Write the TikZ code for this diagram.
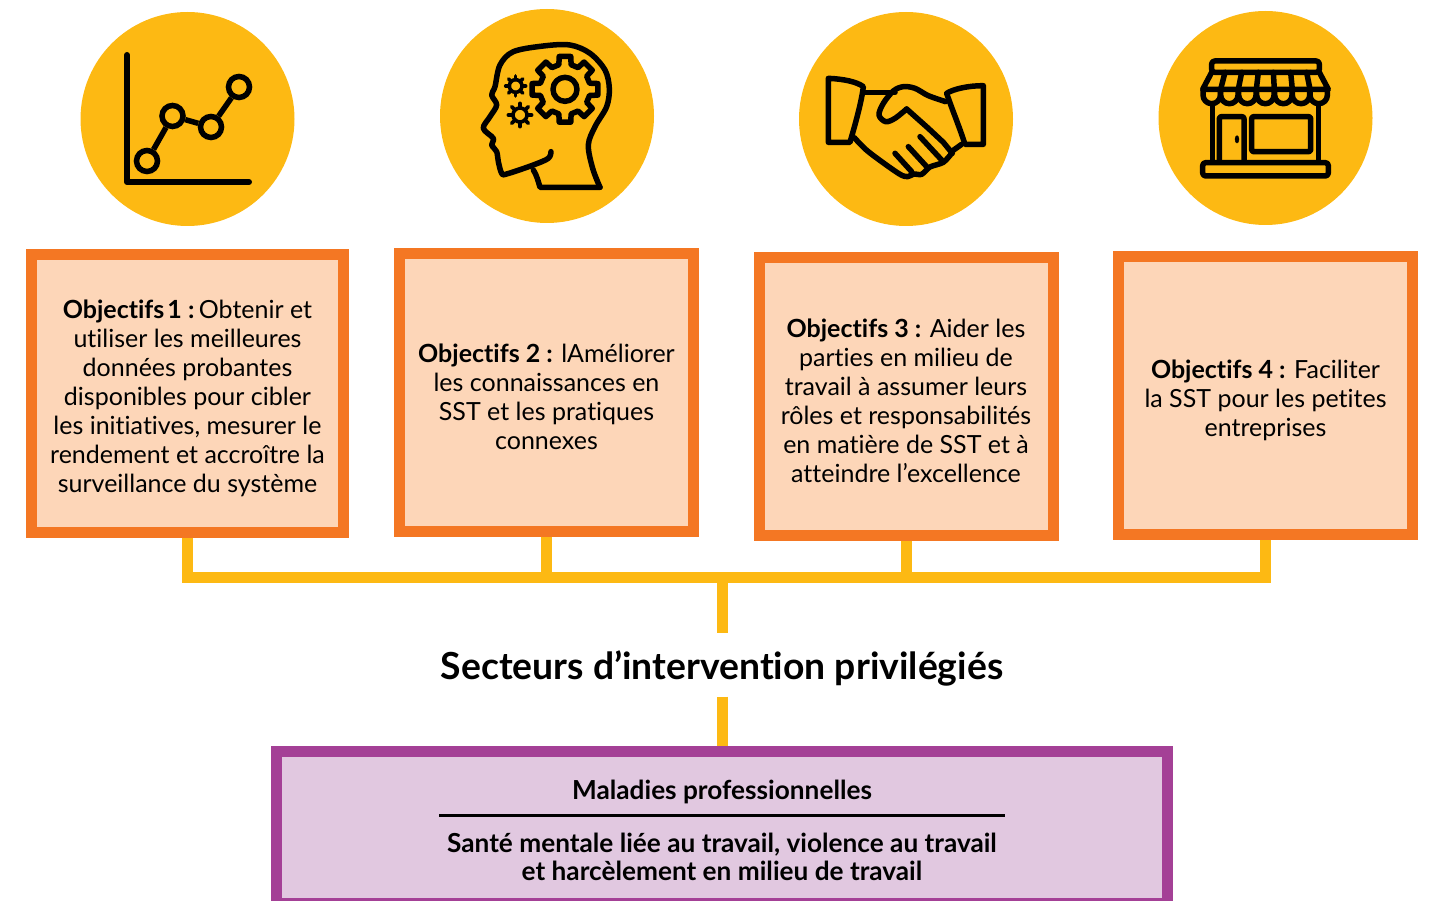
\documentclass[tikz,border=0pt]{standalone}
\usepackage{fontspec}
\setmainfont{Lato}[Ligatures=NoCommon]
\usetikzlibrary{positioning}
\definecolor{goalgold}{HTML}{FDB913}
\definecolor{goalorange}{HTML}{F47723}
\definecolor{goalpeach}{HTML}{FDD6B8}
\definecolor{focuspurple}{HTML}{A44096}
\definecolor{focuslilac}{HTML}{E1C8E0}
\newcommand{\goalstrut}{\rule{0pt}{28pt}} % pushes the block of text down a little
\tikzset{
x=1pt, y=-1pt,
node distance=275pt, % centre of a circle to centre of its box
disc/.style={circle, fill=goalgold, minimum size=214pt, inner sep=0pt}, % icon background
goalbox/.style={draw=goalorange, fill=goalpeach, line width=11pt, minimum width=294pt, minimum height=278pt, inner sep=0pt, align=center, font=\fontsize{25}{29}\selectfont},
busline/.style={draw=goalgold, line width=11pt},
iconline/.style={draw=black, line width=5.5pt, line cap=round, line join=round},
dot/.style={circle, draw=black, line width=5.5pt, minimum size=21pt, inner sep=0pt},
pics/cogwheel/.style n args={4}{code={ % root radius, tip radius, hub radius, line width
  \draw[iconline, line width=#4] (-14:#1)
    \foreach \a in {0,45,...,315} {-- (\a-14:#1) -- (\a-10:#2) -- (\a+10:#2) -- (\a+14:#1)} -- cycle;
  \draw[iconline, line width=#4] (0,0) circle (#3);
}},
pics/sprocket/.style n args={3}{code={ % hub radius, tip radius, spoke width
  \draw[iconline, line width=#3] (0,0) circle (#1);
  \foreach \a in {0,45,...,315} \draw[iconline, line width=#3] (\a:#1) -- (\a:#2);
}},
}
\begin{document}
\begin{tikzpicture}
      \useasboundingbox (0,0) rectangle (1430,901);

      \node[disc] (disc1) at (187.5,119) {};
      \node[disc] (disc2) at (547,116) {};
      \node[disc] (disc3) at (906,119) {};
      \node[disc] (disc4) at (1265.5,118) {};

      \node[goalbox, minimum width=312pt, below of=disc1, yshift=0.5pt] (goal1) {\goalstrut\textbf{Objectifs\kern-3pt\ 1 :}\kern-2pt\ Obtenir et\\utiliser les meilleures\\données probantes\\disponibles pour cibler\\les initiatives, mesurer le\\rendement et accroître la\\surveillance du système};
      \node[goalbox, below of=disc2, yshift=-1.5pt, xshift=-0.5pt] (goal2) {\goalstrut\textbf{Objectifs 2 :} lAméliorer\\les connaissances en\\SST et les pratiques\\connexes};
      \node[goalbox, below of=disc3, yshift=-2.5pt] (goal3) {\goalstrut\textbf{Objectifs 3 :} Aider les\\parties en milieu de\\travail à assumer leurs\\rôles et responsabilités\\en matière de SST et à\\atteindre l’excellence};
      \node[goalbox, below of=disc4, yshift=-2.5pt] (goal4) {\goalstrut\textbf{Objectifs 4 :} Faciliter\\la SST pour les petites\\entreprises};

      \coordinate (bus) at (722,577);
      \node[minimum height=63pt, inner sep=0pt, text height=38pt, text depth=8.5pt, font=\fontsize{37.3}{44}\selectfont\bfseries] (title) at (722,665) {Secteurs d’intervention privilégiés};
      \node[draw=focuspurple, fill=focuslilac, line width=11pt, minimum width=891pt, minimum height=152.5pt, inner sep=0pt] (focus) at (722,827.25) {};
      \node[font=\fontsize{26.2}{30}\selectfont\bfseries] (sector) at (722,792) {Maladies professionnelles};
      \node[align=center, font=\fontsize{26.2}{28}\selectfont\bfseries] (themes) at (722,857) {Santé mentale liée au travail, violence au travail\\et harcèlement en milieu de travail};
      \coordinate (ruleL) at (439,815.5);
      \coordinate (ruleR) at (1005,815.5);
      \draw[line width=2.5pt] (ruleL) -- (ruleR);

      \draw[busline] (goal1.south) |- (bus) -| (goal4.south);
      \draw[busline] (goal2.south) -- (goal2.south |- bus);
      \draw[busline] (goal3.south) -- (goal3.south |- bus);
      \draw[busline] (bus) -- (title.north);
      \draw[busline] (title.south) -- (focus.north);

      % chart icon
      \coordinate (axisTop) at (127,55);
      \coordinate (axisCorner) at (127,182);
      \coordinate (axisEnd) at (249,182);
      \draw[iconline, line width=6pt] (axisTop) -- (axisCorner) -- (axisEnd);
      \node[dot] (dot1) at (147,161) {};
      \node[dot] (dot2) at (172.5,116) {};
      \node[dot] (dot3) at (211,127) {};
      \node[dot] (dot4) at (239,87) {};
      \draw[iconline, line cap=butt] (dot1) -- (dot2);
      \draw[iconline, line cap=butt] (dot2) -- (dot3);
      \draw[iconline, line cap=butt] (dot3) -- (dot4);

      % head icon
      \begin{scope}[shift={(470,30)}, x=0.3333pt, y=-0.3333pt]
        \draw[iconline] plot[smooth, tension=0.55] coordinates {(390,472) (368,415) (355,345) (375,290) (410,230) (418,175) (405,120) (360,70) (300,45) (220,48) (130,65) (90,105) (75,170) (65,195) (80,225) (60,260) (40,295) (70,325) (65,345) (80,365) (85,395) (95,430) (110,432) (190,405) (235,385) (243,365)};
        \draw[iconline] (190,420) .. controls (200,435) and (205,455) .. (210,472) -- (390,472);
        \path (285,178) pic {cogwheel={76}{100}{36}{5.5pt}};
        \path (137,168) pic {sprocket={19}{30}{3.6pt}};
        \path (150,255) pic {sprocket={21}{35}{3.6pt}};
      \end{scope}

      % handshake icon
      \begin{scope}[shift={(815,65)}, x=0.3333pt, y=-0.3333pt]
        \draw[iconline] (40,40) .. controls (85,42) and (125,50) .. (145,65) .. controls (140,110) and (120,180) .. (105,232) -- (40,232) -- cycle;
        \draw[iconline] (505,62) .. controls (460,62) and (415,72) .. (395,85) .. controls (410,130) and (435,190) .. (450,238) -- (505,238) -- cycle;
        \draw[iconline] (145,82) -- (240,82);
        \draw[iconline] plot[smooth, tension=0.55] coordinates {(392,110) (340,92) (300,70) (265,65) (235,78) (205,115) (192,150) (212,170) (240,160) (275,132)};
        \draw[iconline] (275,132) -- (340,190) -- (385,232) -- (412,265);
        \draw[iconline] plot[smooth, tension=0.5] coordinates {(118,218) (160,260) (250,325) (278,335) (296,327) (320,328) (345,306) (385,292) (410,265)};
        \draw[iconline] (240,265) -- (290,320);
        \draw[iconline] (280,245) -- (335,305);
        \draw[iconline] (315,215) -- (380,285);
        \draw[iconline] (412,258) -- (440,238);
      \end{scope}

      % shop icon
      \begin{scope}[shift={(1190,50)}, x=0.3333pt, y=-0.3333pt]
        \draw[iconline, rounded corners=3pt] (65,33) rectangle (388,67);
        \draw[iconline] (65,67) -- (38,118) -- (415,118) -- (388,67);
        \foreach \xt/\xb in {105/92, 155/145, 205/199, 250/253, 302/307, 350/360}
          \draw[iconline] (\xt,67) -- (\xb,118);
        \foreach \xc in {65,118,172,226,280,333,386}
          \draw[iconline] (\xc-26,118) -- (\xc-26,135) arc[start angle=180, end angle=360, radius=8.7pt] -- (\xc+26,118);
        \draw[iconline] (68,165) -- (68,335);
        \draw[iconline] (385,165) -- (385,335);
        \draw[iconline, rounded corners=2pt] (88,335) -- (88,200) -- (162,200) -- (162,335);
        \draw[iconline, rounded corners=2pt] (185,200) rectangle (362,305);
        \draw[fill=black] (141,268) ellipse[x radius=2pt, y radius=3.7pt];
        \draw[iconline, rounded corners=3pt] (38,338) rectangle (415,378);
      \end{scope}
    \end{tikzpicture}
\end{document}
